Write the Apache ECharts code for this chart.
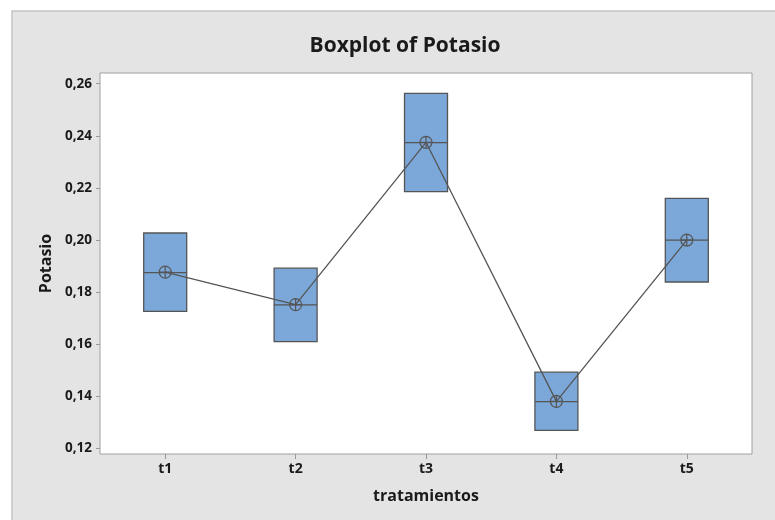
<!DOCTYPE html>
<html>
<head>
<meta charset="utf-8">
<script src="https://cdn.jsdelivr.net/npm/echarts@6/dist/echarts.min.js"></script>
<style>
html,body{margin:0;padding:0;background:#fff;}
#chart{width:775px;height:520px;}
</style>
</head>
<body>
<div id="chart"></div>
<script>
var categories = ['t1', 't2', 't3', 't4', 't5'];
var q1Values = [0.1726, 0.1610, 0.2186, 0.1270, 0.1839];
var medianValues = [0.1875, 0.1751, 0.2374, 0.1380, 0.2000];
var q3Values = [0.2027, 0.1892, 0.2563, 0.1493, 0.2160];
var meanValues = [0.1877, 0.1752, 0.2375, 0.1381, 0.2000];
var yTicks = [0.12, 0.14, 0.16, 0.18, 0.20, 0.22, 0.24, 0.26];

var boxData = categories.map(function (c, i) {
  return [q1Values[i], q1Values[i], medianValues[i], q3Values[i], q3Values[i]];
});

var FONT = '"Open Sans", "Noto Sans", sans-serif';
var chart = echarts.init(document.getElementById('chart'), null, {renderer: 'canvas'});
chart.setOption({
  animation: false,
  backgroundColor: '#ffffff',
  graphic: [
    {type: 'rect', z: -10, silent: true, shape: {x: 12, y: 11, width: 770, height: 515},
     style: {fill: '#e4e4e4', stroke: '#c4c4c4', lineWidth: 1.5}}
  ],
  title: {
    text: 'Boxplot of Potasio',
    left: 400, top: 31, textAlign: 'center',
    textStyle: {fontFamily: FONT, fontSize: 21, fontWeight: 'bold', color: '#1a1a1a'}
  },
  grid: {
    left: 100, top: 73, width: 652, height: 381,
    show: true, backgroundColor: '#ffffff', borderColor: '#a0a0a0', borderWidth: 1
  },
  xAxis: {
    type: 'category',
    data: categories,
    boundaryGap: true,
    name: 'tratamientos',
    nameLocation: 'middle',
    nameGap: 34,
    nameTextStyle: {fontFamily: FONT, fontSize: 16, fontWeight: 'bold', color: '#1a1a1a'},
    axisLine: {show: false},
    axisTick: {show: true, alignWithLabel: true, length: 5, lineStyle: {color: '#999'}},
    axisLabel: {margin: 8, fontFamily: FONT, fontSize: 14, fontWeight: 'bold', color: '#1a1a1a'},
    splitLine: {show: false}
  },
  yAxis: {
    type: 'value',
    min: 0.1179, max: 0.2641,
    name: 'Potasio',
    nameLocation: 'middle',
    nameGap: 46,
    nameRotate: 90,
    nameTextStyle: {fontFamily: FONT, fontSize: 16, fontWeight: 'bold', color: '#1a1a1a'},
    axisLine: {show: false},
    axisTick: {show: true, length: 4, customValues: yTicks, lineStyle: {color: '#999'}},
    axisLabel: {
      margin: 8, customValues: yTicks,
      fontFamily: FONT, fontSize: 13.5, fontWeight: 'bold', color: '#1a1a1a',
      formatter: function (v) { return v.toFixed(2).replace('.', ','); }
    },
    splitLine: {show: false}
  },
  series: [
    {
      type: 'boxplot',
      data: boxData,
      boxWidth: [43, 43],
      itemStyle: {color: '#7ba7d9', borderColor: '#555555', borderWidth: 1.3},
      emphasis: {disabled: true},
      silent: true
    },
    {
      type: 'line',
      data: meanValues,
      symbol: 'path://M12,2 A10,10 0 1,1 11.99,2 Z M2,12 L22,12 M12,2 L12,22',
      symbolSize: 12,
      showAllSymbol: true,
      lineStyle: {color: '#555555', width: 1.3},
      itemStyle: {color: 'rgba(0,0,0,0)', borderColor: '#555555', borderWidth: 1.2},
      emphasis: {disabled: true},
      silent: true,
      z: 5
    }
  ]
});
</script>
</body>
</html>
